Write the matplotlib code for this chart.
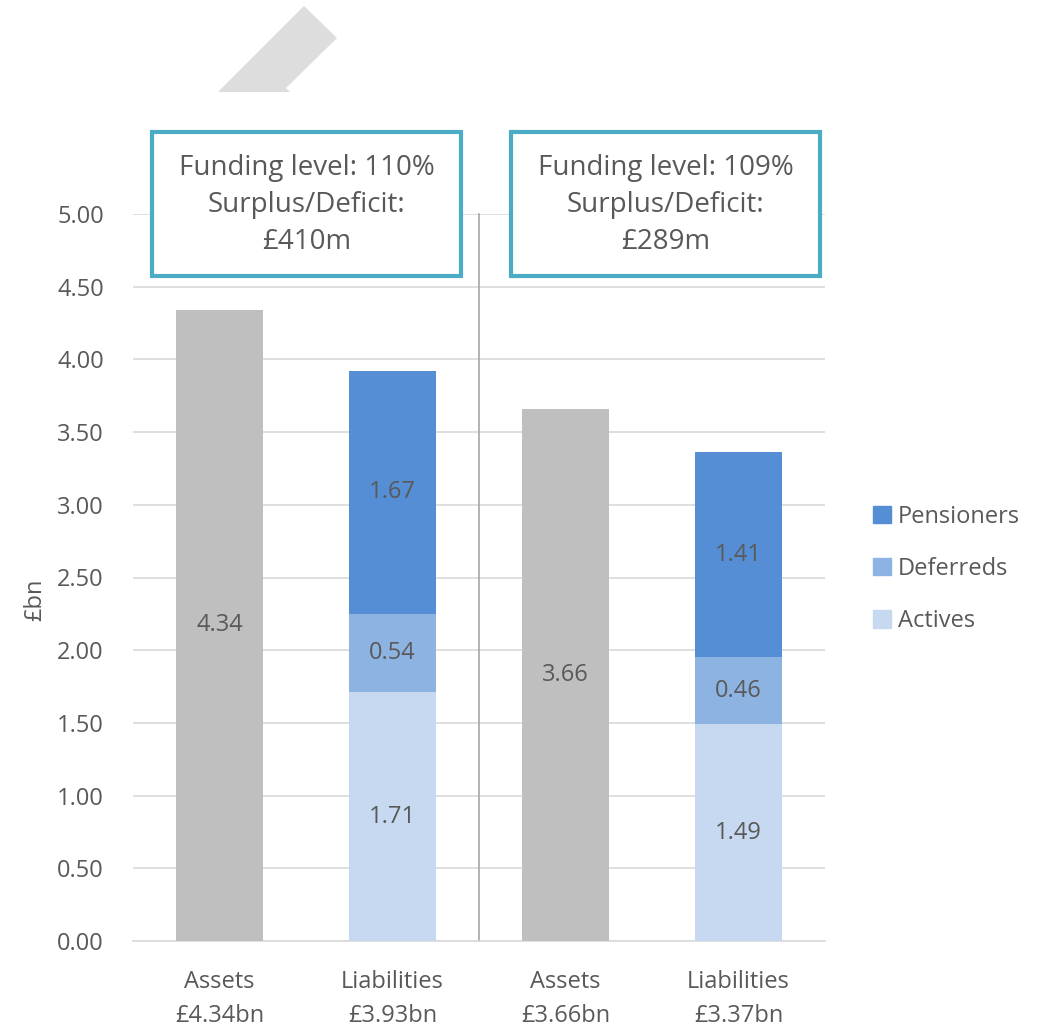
import matplotlib
matplotlib.use("Agg")
import matplotlib.pyplot as plt
from matplotlib.patches import Rectangle, Polygon, Patch

plt.rcParams['font.family'] = ['Open Sans', 'DejaVu Sans']

categories = ["Assets\n£4.34bn", "Liabilities\n£3.93bn", "Assets\n£3.66bn", "Liabilities\n£3.37bn"]
assets = [4.34, None, 3.66, None]
actives = [None, 1.71, None, 1.49]
deferreds = [None, 0.54, None, 0.46]
pensioners = [None, 1.67, None, 1.41]
box_texts = ["Funding level: 110%\nSurplus/Deficit:\n£410m",
             "Funding level: 109%\nSurplus/Deficit:\n£289m"]
yticks = [0, 0.5, 1.0, 1.5, 2.0, 2.5, 3.0, 3.5, 4.0, 4.5, 5.0]

TXT = "#595959"
C_ASSET = "#BFBFBF"
C_ACT = "#C6D9F1"
C_DEF = "#8DB3E2"
C_PEN = "#558ED5"
TEAL = "#4BACC6"
FS = 17

fig = plt.figure(figsize=(10.37, 10.29), dpi=100)
ax = fig.add_axes([133/1037, 1-941/1029, (825-133)/1037, (941-214)/1029])

x = list(range(len(categories)))
w = 0.5
for i in x:
    if assets[i] is not None:
        ax.bar(i, assets[i], width=w, color=C_ASSET, zorder=3)
        ax.text(i, assets[i]/2, f"{assets[i]:.2f}", ha="center", va="center", fontsize=FS, color=TXT, zorder=4)
    else:
        b = 0
        for vals, col in [(actives, C_ACT), (deferreds, C_DEF), (pensioners, C_PEN)]:
            v = vals[i]
            ax.bar(i, v, bottom=b, width=w, color=col, zorder=3)
            ax.text(i, b + v/2, f"{v:.2f}", ha="center", va="center", fontsize=FS, color=TXT, zorder=4)
            b += v

ax.set_xlim(-0.5, 3.5)
ax.set_ylim(0, 5)
ax.set_yticks(yticks)
ax.set_yticklabels([f"{t:.2f}" for t in yticks])
ax.set_xticks(x)
ax.set_xticklabels(categories, fontsize=FS, color=TXT, linespacing=1.55)
ax.tick_params(axis='y', labelsize=FS, colors=TXT, length=0, pad=21)
ax.tick_params(axis='x', length=0, pad=21)
for s in ["top", "right", "left"]:
    ax.spines[s].set_visible(False)
ax.spines["bottom"].set_color("#D9D9D9")
ax.spines["bottom"].set_linewidth(1.2)
ax.grid(axis='y', color="#D9D9D9", linewidth=1.2, zorder=0)
ax.set_axisbelow(True)
ax.set_ylabel("£bn", fontsize=FS, color=TXT)
ax.yaxis.set_label_coords((35 - 133) / 692, (941 - 600) / 727)
ax.yaxis.label.set_va("center")

# separator
ax.plot([1.5, 1.5], [0, 5], color="#A6A6A6", linewidth=1.2, zorder=2, clip_on=False)

# boxes
for (x0, x1), t in zip([(152, 461), (511, 820)], box_texts):
    r = Rectangle((x0/1037, 1-276/1029), (x1-x0)/1037, (276-132)/1029, transform=fig.transFigure,
                  facecolor="white", edgecolor=TEAL, linewidth=3, zorder=5)
    fig.patches.append(r)
    fig.text((x0+x1)/2/1037, 1-205/1029, t, ha="center", va="center", fontsize=20, color=TXT,
             linespacing=1.42, zorder=6)

# decorative arrow fragment at top
pts = [(218, 92), (304, 6), (337, 38), (286, 88), (290, 92)]
fig.patches.append(Polygon([(px/1037, 1-py/1029) for px, py in pts], closed=True,
                           transform=fig.transFigure, facecolor="#DDDDDD", edgecolor="none"))

handles = [Patch(color=C_PEN, label="Pensioners"), Patch(color=C_DEF, label="Deferreds"),
           Patch(color=C_ACT, label="Actives")]
leg = fig.legend(handles=handles, loc="center left", bbox_to_anchor=(852/1037, 1-569/1029),
                 frameon=False, fontsize=FS, handlelength=0.75, handleheight=0.75,
                 handletextpad=0.3, labelspacing=1.2)
for t in leg.get_texts():
    t.set_color(TXT)

fig.savefig("out.png", dpi=100)
